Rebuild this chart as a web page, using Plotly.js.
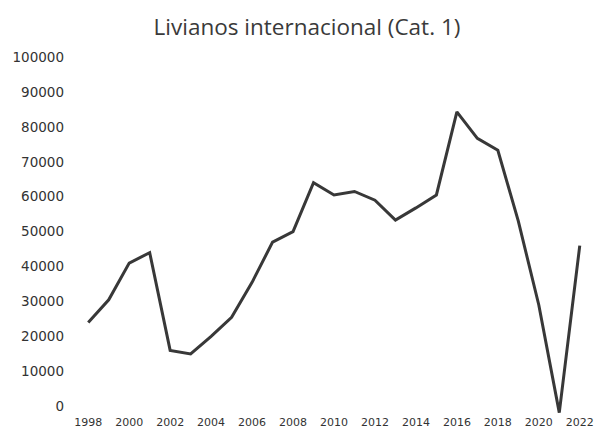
<!DOCTYPE html>
<html>
<head>
<meta charset="utf-8">
<script src="https://cdn.plot.ly/plotly-3.0.1.min.js"></script>
<style>html,body{margin:0;padding:0;background:#fff;}#chart{width:602px;height:446px;}</style>
</head>
<body>
<div id="chart"></div>
<script>
var years = [1998,1999,2000,2001,2002,2003,2004,2005,2006,2007,2008,2009,2010,2011,2012,2013,2014,2015,2016,2017,2018,2019,2020,2021,2022];
var values = [24000,30500,41000,44000,16000,15000,20000,25500,35500,47000,50000,64000,60500,61500,59000,53300,56800,60500,84300,76700,73300,53000,29000,-1800,46000];
var xTicks = [1998,2000,2002,2004,2006,2008,2010,2012,2014,2016,2018,2020,2022];
var xTickLabels = ['1998','2000','2002','2004','2006','2008','2010','2012','2014','2016','2018','2020','2022'];
var yTicks = [0,10000,20000,30000,40000,50000,60000,70000,80000,90000,100000];
var yTickLabels = ['0','10000','20000','30000','40000','50000','60000','70000','80000','90000','100000'];
var titleText = 'Livianos internacional (Cat. 1)';

var trace = {
  x: years, y: values, type: 'scatter', mode: 'lines',
  line: {color: '#383838', width: 3},
  hoverinfo: 'x+y'
};

var layout = {
  width: 602, height: 446,
  paper_bgcolor: '#ffffff', plot_bgcolor: '#ffffff',
  margin: {l: 78, r: 12, t: 57, b: 32},
  showlegend: false,
  title: {text: titleText, x: 0.51, xanchor: 'center', y: 0.94, yanchor: 'middle',
          font: {family: '"Open Sans", sans-serif', size: 22.5, color: '#3a3a3a'}},
  xaxis: {
    range: [1997.5, 2022.5], tickvals: xTicks, ticktext: xTickLabels,
    showgrid: false, zeroline: false, showline: false, ticks: '',
    tickfont: {family: '"DejaVu Sans", sans-serif', size: 11, color: '#333'}
  },
  yaxis: {
    range: [-2200, 100000], tickvals: yTicks, ticktext: yTickLabels,
    showgrid: false, zeroline: false, showline: false, ticks: '',
    ticklabelstandoff: 13,
    tickfont: {family: '"DejaVu Sans", sans-serif', size: 13.5, color: '#333'}
  }
};

Plotly.newPlot('chart', [trace], layout, {displayModeBar: false, staticPlot: true});
</script>
</body>
</html>
